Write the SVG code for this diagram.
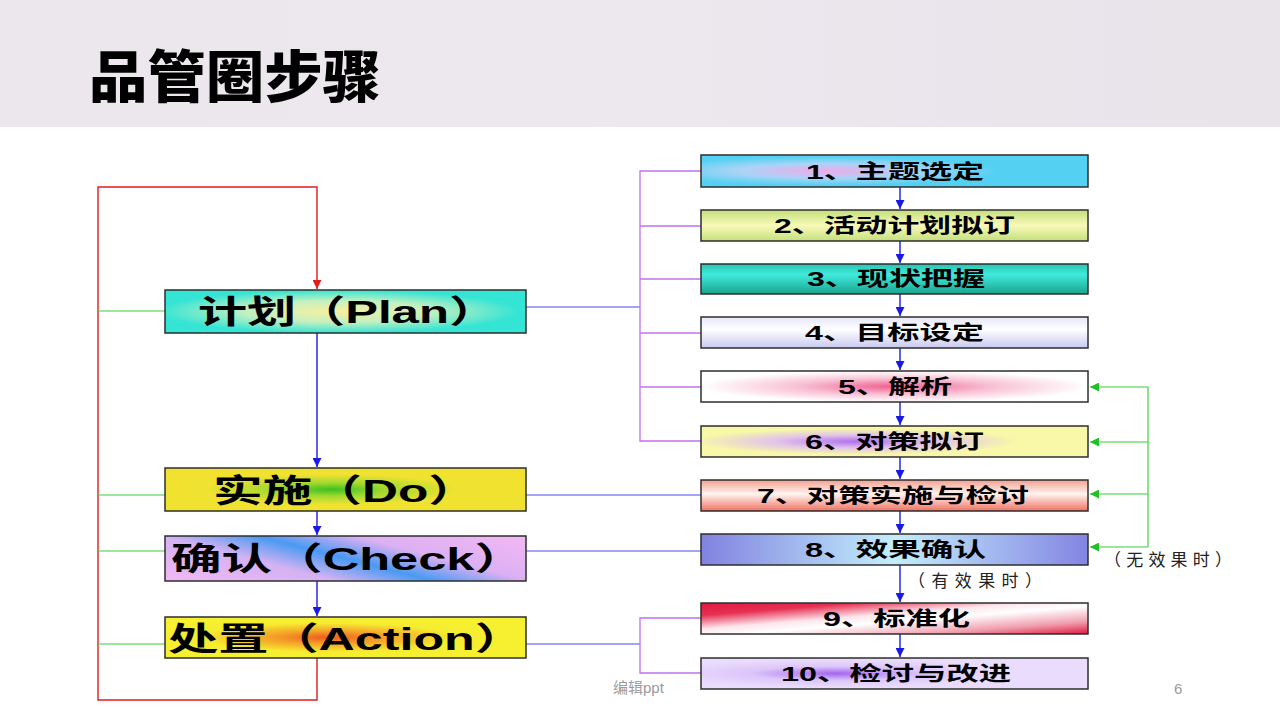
<svg xmlns="http://www.w3.org/2000/svg" width="1280" height="720" viewBox="0 0 1280 720">
<defs>
<style>
.box{stroke:#2e2e2e;stroke-width:1.5}
.t{font-family:"Liberation Sans","Noto Sans CJK SC",sans-serif;font-weight:bold;fill:#000}
.lt{font-size:32px}
.rt{font-size:20px}
.note{font-family:"Noto Sans CJK SC","Liberation Sans",sans-serif;font-size:17px;fill:#222}
.foot{font-family:"Liberation Sans","Noto Sans CJK SC",sans-serif;font-size:15px;fill:#9a9a9a}
.blue{stroke:#1a1ae6;stroke-width:1.4;fill:none}
.red{stroke:#e41c1c;stroke-width:1.4;fill:none}
.green{stroke:#3ccf3c;stroke-width:1.2;fill:none}
.purple{stroke:#c070ee;stroke-width:1.3;fill:none}
.lblue{stroke:#4a4aee;stroke-width:1.2;fill:none}
</style>
<marker id="ab" viewBox="0 0 10 10" refX="10" refY="5" markerWidth="9" markerHeight="9" markerUnits="userSpaceOnUse" orient="auto"><path d="M0,0 L10,5 L0,10 z" fill="#1a1ae6"/></marker>
<marker id="ar" viewBox="0 0 10 10" refX="10" refY="5" markerWidth="9" markerHeight="9" markerUnits="userSpaceOnUse" orient="auto"><path d="M0,0 L10,5 L0,10 z" fill="#e41c1c"/></marker>
<marker id="ag" viewBox="0 0 10 10" refX="10" refY="5" markerWidth="9" markerHeight="9" markerUnits="userSpaceOnUse" orient="auto"><path d="M0,0 L10,5 L0,10 z" fill="#22c022"/></marker>
<linearGradient id="hdr" x1="0" y1="0" x2="1" y2="0"><stop offset="0" stop-color="#ebe7ed"/><stop offset="0.5" stop-color="#ece8ee"/><stop offset="1" stop-color="#e9e3ea"/></linearGradient>
<radialGradient id="gPlan" cx="0.48" cy="0.5" r="0.5"><stop offset="0" stop-color="#f8f0a0"/><stop offset="0.5" stop-color="#c4f0c0"/><stop offset="1" stop-color="#34e4d4"/></radialGradient>
<radialGradient id="gDo" cx="0.46" cy="0.5" r="0.5"><stop offset="0" stop-color="#3cc020"/><stop offset="0.3" stop-color="#a0d830"/><stop offset="0.7" stop-color="#f0e230"/><stop offset="1" stop-color="#f2e230"/></radialGradient>
<linearGradient id="gCheck" gradientUnits="userSpaceOnUse" x1="362" y1="494" x2="329" y2="623"><stop offset="0" stop-color="#f2b8f4"/><stop offset="0.32" stop-color="#dcb0f2"/><stop offset="0.5" stop-color="#4a9af2"/><stop offset="0.68" stop-color="#d4b2f2"/><stop offset="1" stop-color="#f2b8f4"/></linearGradient>
<radialGradient id="gAct" cx="0.45" cy="0.5" r="0.5"><stop offset="0" stop-color="#f05a20"/><stop offset="0.3" stop-color="#f4a028"/><stop offset="0.7" stop-color="#f6ec30"/><stop offset="1" stop-color="#f6f030"/></radialGradient>
<radialGradient id="g1" cx="0.32" cy="0.5" r="0.45"><stop offset="0" stop-color="#f4a8e8"/><stop offset="0.5" stop-color="#a8d4f6"/><stop offset="1" stop-color="#54d0f2"/></radialGradient>
<linearGradient id="g2" x1="0" y1="0" x2="0" y2="1"><stop offset="0" stop-color="#c4e07c"/><stop offset="0.5" stop-color="#f8f8b8"/><stop offset="1" stop-color="#c4e07c"/></linearGradient>
<linearGradient id="g3" x1="0" y1="0" x2="0" y2="1"><stop offset="0" stop-color="#26c4b2"/><stop offset="0.35" stop-color="#40eadc"/><stop offset="1" stop-color="#1aa48e"/></linearGradient>
<linearGradient id="g4" x1="0" y1="0" x2="0" y2="1"><stop offset="0" stop-color="#e6e6fa"/><stop offset="0.4" stop-color="#ffffff"/><stop offset="1" stop-color="#c8c8f0"/></linearGradient>
<radialGradient id="g5" cx="0.5" cy="0.5" r="0.5"><stop offset="0" stop-color="#f05e90"/><stop offset="0.5" stop-color="#f8c0d4"/><stop offset="1" stop-color="#ffffff"/></radialGradient>
<radialGradient id="g6" cx="0.4" cy="0.5" r="0.42"><stop offset="0" stop-color="#b070f0"/><stop offset="0.5" stop-color="#e2c4e8"/><stop offset="1" stop-color="#f8f8a8"/></radialGradient>
<linearGradient id="g7" x1="0" y1="0" x2="0" y2="1"><stop offset="0" stop-color="#f4a090"/><stop offset="0.45" stop-color="#fff4f0"/><stop offset="1" stop-color="#ef7262"/></linearGradient>
<linearGradient id="g8" x1="0" y1="0" x2="1" y2="0"><stop offset="0" stop-color="#8282e0"/><stop offset="0.5" stop-color="#c2eefc"/><stop offset="1" stop-color="#8484e2"/></linearGradient>
<linearGradient id="g9" x1="0" y1="0" x2="1" y2="1"><stop offset="0" stop-color="#e01840"/><stop offset="0.2" stop-color="#e63052"/><stop offset="0.42" stop-color="#fce6ec"/><stop offset="0.55" stop-color="#ffffff"/><stop offset="0.8" stop-color="#f09cac"/><stop offset="1" stop-color="#e01840"/></linearGradient>
<radialGradient id="g10" cx="0.35" cy="0.5" r="0.45"><stop offset="0" stop-color="#a466f0"/><stop offset="0.5" stop-color="#dcc6fa"/><stop offset="1" stop-color="#eadcfc"/></radialGradient>
</defs>

<rect x="0" y="0" width="1280" height="127" fill="url(#hdr)"/>
<text x="89" y="97" font-family="'Noto Sans CJK SC',sans-serif" font-weight="900" font-size="56" fill="#000" textLength="292" lengthAdjust="spacingAndGlyphs">品管圈步骤</text>

<g id="connectors">
<polyline class="red" points="317,658 317,700 98,700 98,187 317,187 317,289" marker-end="url(#ar)"/>
<line class="green" x1="98" y1="311" x2="165" y2="311"/>
<line class="green" x1="98" y1="495" x2="165" y2="495"/>
<line class="green" x1="98" y1="551" x2="165" y2="551"/>
<line class="green" x1="98" y1="644" x2="165" y2="644"/>
<line class="blue" x1="317" y1="333" x2="317" y2="467" marker-end="url(#ab)"/>
<line class="blue" x1="317" y1="511" x2="317" y2="535" marker-end="url(#ab)"/>
<line class="blue" x1="317" y1="581" x2="317" y2="616" marker-end="url(#ab)"/>
<line class="lblue" x1="526" y1="307" x2="640" y2="307"/>
<polyline class="purple" points="701,171 640,171 640,441 701,441"/>
<line class="purple" x1="640" y1="226" x2="701" y2="226"/>
<line class="purple" x1="640" y1="279" x2="701" y2="279"/>
<line class="purple" x1="640" y1="333" x2="701" y2="333"/>
<line class="purple" x1="640" y1="387" x2="701" y2="387"/>
<line class="lblue" x1="526" y1="495" x2="701" y2="495"/>
<line class="lblue" x1="526" y1="551" x2="701" y2="551"/>
<line class="lblue" x1="526" y1="644" x2="640" y2="644"/>
<polyline class="purple" points="701,618 640,618 640,673 701,673"/>
<line class="blue" x1="900" y1="187" x2="900" y2="209" marker-end="url(#ab)"/>
<line class="blue" x1="900" y1="241" x2="900" y2="263" marker-end="url(#ab)"/>
<line class="blue" x1="900" y1="294" x2="900" y2="316" marker-end="url(#ab)"/>
<line class="blue" x1="900" y1="348" x2="900" y2="370" marker-end="url(#ab)"/>
<line class="blue" x1="900" y1="402" x2="900" y2="425" marker-end="url(#ab)"/>
<line class="blue" x1="900" y1="457" x2="900" y2="479" marker-end="url(#ab)"/>
<line class="blue" x1="900" y1="511" x2="900" y2="533" marker-end="url(#ab)"/>
<line class="blue" x1="900" y1="565" x2="900" y2="602" marker-end="url(#ab)"/>
<line class="blue" x1="900" y1="634" x2="900" y2="657" marker-end="url(#ab)"/>
<line class="green" x1="1148" y1="387" x2="1148" y2="547"/>
<line class="green" x1="1148" y1="387" x2="1090" y2="387" marker-end="url(#ag)"/>
<line class="green" x1="1148" y1="442" x2="1090" y2="442" marker-end="url(#ag)"/>
<line class="green" x1="1148" y1="494" x2="1090" y2="494" marker-end="url(#ag)"/>
<line class="green" x1="1148" y1="547" x2="1090" y2="547" marker-end="url(#ag)"/>
</g>

<g id="plan"><rect class="box" x="165" y="290" width="361" height="43" fill="url(#gPlan)"/><text class="t lt" x="198" y="323" textLength="300" lengthAdjust="spacingAndGlyphs">计划（Plan）</text></g>
<g id="do"><rect class="box" x="165" y="468" width="361" height="43" fill="url(#gDo)"/><text class="t lt" x="213" y="502" textLength="265" lengthAdjust="spacingAndGlyphs">实施（Do）</text></g>
<g id="check"><rect class="box" x="165" y="536" width="361" height="45" fill="url(#gCheck)"/><text class="t lt" x="171" y="570" textLength="354" lengthAdjust="spacingAndGlyphs">确认（Check）</text></g>
<g id="action"><rect class="box" x="165" y="617" width="361" height="41" fill="url(#gAct)"/><text class="t lt" x="168" y="650" textLength="357" lengthAdjust="spacingAndGlyphs">处置（Action）</text></g>

<g id="s1"><rect class="box" x="701" y="155" width="387" height="32" fill="url(#g1)"/><text class="t rt" x="806" y="179" textLength="178" lengthAdjust="spacingAndGlyphs">1、主题选定</text></g>
<g id="s2"><rect class="box" x="701" y="210" width="387" height="31" fill="url(#g2)"/><text class="t rt" x="774" y="233" textLength="241" lengthAdjust="spacingAndGlyphs">2、活动计划拟订</text></g>
<g id="s3"><rect class="box" x="701" y="264" width="387" height="30" fill="url(#g3)"/><text class="t rt" x="807" y="286" textLength="178" lengthAdjust="spacingAndGlyphs">3、现状把握</text></g>
<g id="s4"><rect class="box" x="701" y="317" width="387" height="31" fill="url(#g4)"/><text class="t rt" x="805" y="340" textLength="179" lengthAdjust="spacingAndGlyphs">4、目标设定</text></g>
<g id="s5"><rect class="box" x="701" y="371" width="387" height="31" fill="url(#g5)"/><text class="t rt" x="838" y="394" textLength="114" lengthAdjust="spacingAndGlyphs">5、解析</text></g>
<g id="s6"><rect class="box" x="701" y="426" width="387" height="31" fill="url(#g6)"/><text class="t rt" x="805" y="449" textLength="179" lengthAdjust="spacingAndGlyphs">6、对策拟订</text></g>
<g id="s7"><rect class="box" x="701" y="480" width="387" height="31" fill="url(#g7)"/><text class="t rt" x="757" y="503" textLength="272" lengthAdjust="spacingAndGlyphs">7、对策实施与检讨</text></g>
<g id="s8"><rect class="box" x="701" y="534" width="387" height="31" fill="url(#g8)"/><text class="t rt" x="805" y="557" textLength="181" lengthAdjust="spacingAndGlyphs">8、效果确认</text></g>
<g id="s9"><rect class="box" x="701" y="603" width="387" height="31" fill="url(#g9)"/><text class="t rt" x="823" y="626" textLength="147" lengthAdjust="spacingAndGlyphs">9、标准化</text></g>
<g id="s10"><rect class="box" x="701" y="658" width="387" height="31" fill="url(#g10)"/><text class="t rt" x="781" y="681" textLength="230" lengthAdjust="spacingAndGlyphs">10、检讨与改进</text></g>

<text class="note" x="1104" y="566" textLength="128" lengthAdjust="spacing">（无效果时）</text>
<text class="note" x="908" y="587" textLength="134" lengthAdjust="spacing">（有效果时）</text>
<text class="foot" x="613" y="693">编辑ppt</text>
<text class="foot" x="1174" y="694" font-size="16">6</text>
</svg>
